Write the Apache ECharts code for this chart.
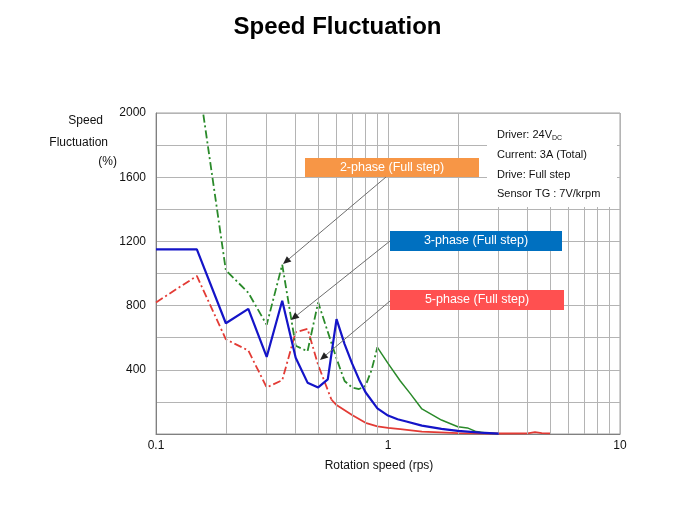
<!DOCTYPE html>
<html>
<head>
<meta charset="utf-8">
<script src="https://cdn.jsdelivr.net/npm/echarts@6/dist/echarts.min.js"></script>
<style>
html,body{margin:0;padding:0;background:#fff;}
#c{width:675px;height:506px;}
</style>
</head>
<body>
<div id="c"></div>
<script>
// ---- data ----
const titleText = 'Speed Fluctuation';
const xTickValues = [0.1, 1, 10];
const yTickValues = [400, 800, 1200, 1600, 2000];
const minorGridSpeeds = [0.2,0.3,0.4,0.5,0.6,0.7,0.8,0.9,2,3,4,5,6,7,8,9];

const threePhaseSpeed = [0.1,0.15,0.2,0.25,0.3,0.35,0.4,0.45,0.5,0.55,0.6,0.65,0.7,0.75,0.8,0.9,1.0,1.1,1.2,1.4,1.7,2.0,2.5,3.0];
const threePhaseFluct = [1150,1150,690,780,480,830,475,320,290,340,716,560,440,340,260,160,115,92,78,52,32,20,8,2];

const twoPhaseSpeedA = [0.16,0.2,0.25,0.3,0.35,0.4,0.45,0.5,0.6,0.65,0.7,0.75,0.8,0.85,0.9];
const twoPhaseFluctA = [1990,1020,880,680,1055,550,515,820,470,330,290,280,300,400,540];
const twoPhaseSpeedB = [0.9,1.0,1.13,1.25,1.4,1.7,2.0,2.2,2.4,2.7,3.0];
const twoPhaseFluctB = [540,440,330,250,156,87,45,38,15,4,1];

const fivePhaseSpeedA = [0.1,0.15,0.2,0.25,0.3,0.35,0.4,0.45,0.5,0.57];
const fivePhaseFluctA = [820,985,590,520,290,335,635,655,430,215];
const fivePhaseSpeedB = [0.57,0.6,0.7,0.8,0.9,1.0,1.13,1.4,2.0,3.0,4.0,4.3,4.6,5.0];
const fivePhaseFluctB = [215,180,118,70,48,38,31,15,6,3,4,12,6,4];

const labelTwo = '2-phase (Full step)';
const labelThree = '3-phase (Full step)';
const labelFive = '5-phase (Full step)';
const infoLines = ['Driver: 24V', 'Current: 3A (Total)', 'Drive: Full step', 'Sensor TG : 7V/krpm'];

const pairs = (xs, ys) => xs.map((x, i) => [x, ys[i]]);
const FONT = '"Liberation Sans", Arial, sans-serif';
const GRIDC = '#b4b4b4';

const chart = echarts.init(document.getElementById('c'), null, {renderer: 'canvas'});

function arrow(x1, y1, x2, y2) {
  const ang = Math.atan2(y2 - y1, x2 - x1);
  const L = 8, W = 3.5;
  const bx = x2 - L * Math.cos(ang), by = y2 - L * Math.sin(ang);
  const px = -Math.sin(ang) * W, py = Math.cos(ang) * W;
  return [
    {type: 'line', z: 100, shape: {x1, y1, x2: bx, y2: by}, style: {stroke: '#6e6e6e', lineWidth: 1}},
    {type: 'polygon', z: 100, shape: {points: [[x2, y2], [bx + px, by + py], [bx - px, by - py]]}, style: {fill: '#222'}}
  ];
}

function box(x, y, w, h, color, text) {
  return [
    {type: 'rect', z: 100, shape: {x, y, width: w, height: h}, style: {fill: color}},
    {type: 'text', z: 101, x: x + w / 2, y: y + h / 2, style: {text, fill: '#fff', font: '12.5px ' + FONT, align: 'center', verticalAlign: 'middle'}}
  ];
}

const graphics = [].concat(
  [{type: 'rect', z: 90, shape: {x: 487, y: 114, width: 130, height: 93}, style: {fill: '#fff'}}],
  [{type: 'text', z: 101, x: 497, y: 135, style: {
      text: '{a|' + infoLines[0] + '}{s|DC}', verticalAlign: 'middle',
      rich: {a: {font: '11px ' + FONT, fill: '#111'}, s: {font: '7px ' + FONT, fill: '#111', padding: [6, 0, 0, 0]}}}}],
  infoLines.slice(1).map((t, i) => ({type: 'text', z: 101, x: 497, y: 155 + i * 19.5, style: {text: t, font: '11px ' + FONT, fill: '#111', verticalAlign: 'middle'}})),
  box(305, 158, 174, 19, '#F79646', labelTwo),
  box(390, 231, 172, 20, '#0070C0', labelThree),
  box(390, 290, 174, 20, '#FF5050', labelFive),
  arrow(386, 177, 283, 264),
  arrow(390, 241, 291, 320),
  arrow(390, 301, 320, 360),
  [
    {type: 'text', x: 103, y: 121, style: {text: 'Speed', font: '12px ' + FONT, fill: '#111', align: 'right', verticalAlign: 'middle'}},
    {type: 'text', x: 108, y: 143, style: {text: 'Fluctuation', font: '12px ' + FONT, fill: '#111', align: 'right', verticalAlign: 'middle'}},
    {type: 'text', x: 117, y: 162, style: {text: '(%)', font: '12px ' + FONT, fill: '#111', align: 'right', verticalAlign: 'middle'}},
    {type: 'text', x: 379, y: 466, style: {text: 'Rotation speed (rps)', font: '12px ' + FONT, fill: '#111', align: 'center', verticalAlign: 'middle'}}
  ]
);

const option = {
  backgroundColor: '#fff',
  animation: false,
  title: {text: titleText, left: 'center', top: 10, textStyle: {fontFamily: FONT, fontSize: 24, fontWeight: 'bold', color: '#000'}},
  grid: {left: 156, right: 55, top: 113, bottom: 72, show: true, borderColor: '#a0a0a0', borderWidth: 1},
  xAxis: {
    type: 'log', logBase: 10, min: 0.1, max: 10,
    axisLine: {show: true, lineStyle: {color: '#808080'}},
    axisTick: {show: false},
    axisLabel: {color: '#111', fontFamily: FONT, fontSize: 12, margin: 6,
      formatter: v => { const r = xTickValues.find(t => Math.abs(t - v) < 1e-9); return r !== undefined ? String(r) : ''; }},
    splitLine: {show: true, lineStyle: {color: GRIDC, width: 1}}
  },
  yAxis: {
    type: 'value', min: 0, max: 2000, interval: 200,
    axisLine: {show: true, lineStyle: {color: '#808080'}},
    axisTick: {show: false},
    axisLabel: {color: '#111', fontFamily: FONT, fontSize: 12, margin: 10,
      formatter: v => yTickValues.indexOf(v) >= 0 ? String(v) : ''},
    splitLine: {show: true, lineStyle: {color: GRIDC, width: 1}}
  },
  graphic: graphics,
  series: [
    {type: 'line', name: 'grid', data: [], z: 1, silent: true,
      markLine: {silent: true, symbol: 'none', label: {show: false}, animation: false,
        lineStyle: {color: GRIDC, type: 'solid', width: 1},
        data: minorGridSpeeds.map(s => ({xAxis: s}))}},
    {type: 'line', name: '5-phase a', data: pairs(fivePhaseSpeedA, fivePhaseFluctA), showSymbol: false, symbol: 'none', z: 3,
      lineStyle: {color: '#E33B35', width: 1.8, type: [8, 3, 2, 3]}},
    {type: 'line', name: '5-phase b', data: pairs(fivePhaseSpeedB, fivePhaseFluctB), showSymbol: false, symbol: 'none', z: 3,
      lineStyle: {color: '#E33B35', width: 1.8}},
    {type: 'line', name: '2-phase a', data: pairs(twoPhaseSpeedA, twoPhaseFluctA), showSymbol: false, symbol: 'none', z: 4,
      lineStyle: {color: '#2A8A2A', width: 1.8, type: [8, 3, 2, 3]}},
    {type: 'line', name: '2-phase b', data: pairs(twoPhaseSpeedB, twoPhaseFluctB), showSymbol: false, symbol: 'none', z: 4,
      lineStyle: {color: '#2A8A2A', width: 1.5}},
    {type: 'line', name: '3-phase', data: pairs(threePhaseSpeed, threePhaseFluct), showSymbol: false, symbol: 'none', z: 5,
      lineStyle: {color: '#1414C8', width: 2.2}}
  ]
};
chart.setOption(option);
</script>
</body>
</html>
